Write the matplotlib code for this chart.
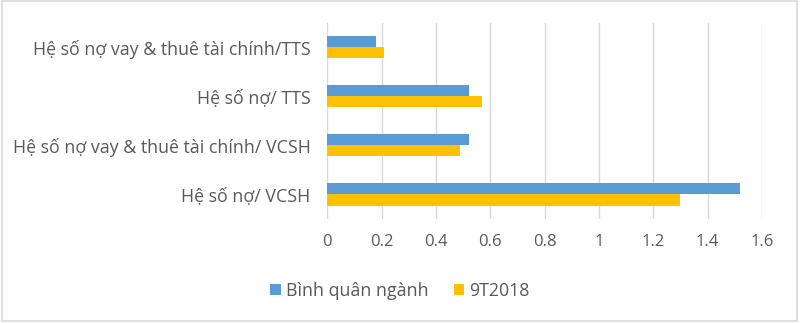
import matplotlib.pyplot as plt
from matplotlib.patches import Rectangle
import numpy as np

# Chỉ tiêu và số liệu
categories = [
    "Hệ số nợ vay & thuê tài chính/TTS",
    "Hệ số nợ/ TTS",
    "Hệ số nợ vay & thuê tài chính/ VCSH",
    "Hệ số nợ/ VCSH",
]
binh_quan_nganh = [0.18, 0.52, 0.52, 1.52]
ky_9t2018 = [0.21, 0.57, 0.49, 1.30]
series_names = ["Bình quân ngành", "9T2018"]
x_ticks = [0, 0.2, 0.4, 0.6, 0.8, 1, 1.2, 1.4, 1.6]
x_tick_labels = ["0", "0.2", "0.4", "0.6", "0.8", "1", "1.2", "1.4", "1.6"]

text_color = "#595959"
plt.rcParams["font.family"] = ["Open Sans", "DejaVu Sans"]

fig = plt.figure(figsize=(8, 3.23), dpi=100)
ax = fig.add_axes([0.409, 0.322, 0.5435, 0.607])

y = np.arange(len(categories))
h = 0.225
ax.barh(y - h / 2, binh_quan_nganh, height=h, color="#5B9BD5", label=series_names[0], zorder=3)
ax.barh(y + h / 2, ky_9t2018, height=h, color="#FFC000", label=series_names[1], zorder=3)

ax.set_ylim(len(categories) - 0.5, -0.5)
ax.set_xlim(0, 1.6)
ax.set_yticks(y)
ax.set_yticklabels(categories, fontsize=12.8, color=text_color)
ax.set_xticks(x_ticks)
ax.set_xticklabels(x_tick_labels, fontsize=12, color=text_color)
ax.tick_params(axis="both", length=0)
ax.tick_params(axis="y", pad=12)
ax.tick_params(axis="x", pad=11)

ax.grid(axis="x", color="#D9D9D9", linewidth=1, zorder=0)
for side in ax.spines.values():
    side.set_visible(False)

leg = fig.legend(loc="center", bbox_to_anchor=(0.5, 0.10), ncol=2, frameon=False,
                 fontsize=12.8, handlelength=0.6, handleheight=0.6,
                 handletextpad=0.3, columnspacing=1.4)
for t in leg.get_texts():
    t.set_color(text_color)

# khung viền quanh hình
fig.patches.append(Rectangle((0.002, 0.006), 0.994, 0.99, transform=fig.transFigure,
                             fill=False, edgecolor="#D9D9D9", linewidth=1.2))

fig.savefig("out.png", dpi=100)
